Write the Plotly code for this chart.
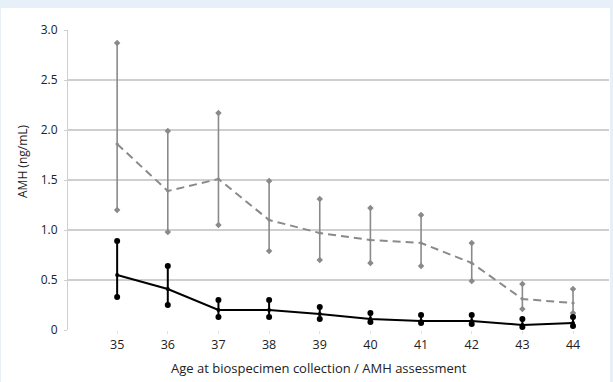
import plotly.graph_objects as go

ages = [35, 36, 37, 38, 39, 40, 41, 42, 43, 44]

grey_mean = [1.86, 1.39, 1.51, 1.10, 0.97, 0.90, 0.87, 0.67, 0.31, 0.27]
grey_upper = [2.87, 1.99, 2.17, 1.49, 1.31, 1.22, 1.15, 0.87, 0.46, 0.41]
grey_lower = [1.20, 0.98, 1.05, 0.79, 0.70, 0.67, 0.64, 0.49, 0.21, 0.17]

black_mean = [0.55, 0.41, 0.20, 0.20, 0.16, 0.11, 0.09, 0.09, 0.05, 0.07]
black_upper = [0.89, 0.64, 0.30, 0.30, 0.23, 0.17, 0.15, 0.15, 0.11, 0.13]
black_lower = [0.33, 0.25, 0.13, 0.13, 0.11, 0.08, 0.07, 0.06, 0.03, 0.04]

y_tickvals = [0, 0.5, 1.0, 1.5, 2.0, 2.5, 3.0]
y_ticktext = ["0", "0.5", "1.0", "1.5", "2.0", "2.5", "3.0"]

x_title = "Age at biospecimen collection / AMH assessment"
y_title = "AMH (ng/mL)"

GREY = "#8a8a8a"
BLACK = "#000000"
TEXT = "#222222"

fig = go.Figure()

def add_series(mean, upper, lower, color, dash, lw, ethick, msize, msymbol):
    err_plus = [u - m for u, m in zip(upper, mean)]
    err_minus = [m - l for m, l in zip(mean, lower)]
    fig.add_trace(go.Scatter(
        x=ages, y=mean, mode="lines+markers",
        line=dict(color=color, width=lw, dash=dash),
        marker=dict(color=color, size=msize - 2, symbol=msymbol),
        error_y=dict(type="data", symmetric=False, array=err_plus,
                     arrayminus=err_minus, color=color, thickness=ethick, width=0),
        showlegend=False, hoverinfo="skip"))
    fig.add_trace(go.Scatter(
        x=ages + ages, y=upper + lower, mode="markers",
        marker=dict(color=color, size=msize, symbol=msymbol),
        showlegend=False, hoverinfo="skip"))

add_series(grey_mean, grey_upper, grey_lower, GREY, "8px,5px", 2, 1.6, 5, "diamond")
add_series(black_mean, black_upper, black_lower, BLACK, "solid", 2, 2, 6, "circle")

# white chart card over a light-blue page background
fig.add_shape(type="rect", xref="paper", yref="paper",
              x0=(1 - 68) / 541, x1=(610 - 68) / 541,
              y0=(330 - 390) / 300, y1=(330 - 8) / 300,
              fillcolor="white", line_width=0, layer="below")

fig.add_annotation(text=x_title, xref="paper", yref="paper",
                   x=(319 - 68) / 541, y=(330 - 368) / 300,
                   xanchor="center", yanchor="middle", showarrow=False,
                   font=dict(size=13, color=TEXT))
fig.add_annotation(text=y_title, xref="paper", yref="paper",
                   x=(22 - 68) / 541, y=(330 - 161) / 300, textangle=-90,
                   xanchor="center", yanchor="middle", showarrow=False,
                   font=dict(size=12, color=TEXT))

fig.update_layout(
    width=613, height=382,
    margin=dict(l=68, r=4, t=30, b=52),
    paper_bgcolor="#e7eff9", plot_bgcolor="white",
    font=dict(family="Open Sans", size=12, color=TEXT),
)
fig.update_xaxes(
    range=[34.03, 44.71], tickvals=ages, ticktext=[str(a) for a in ages],
    showgrid=False, zeroline=False, showline=False,
    ticks="outside", ticklen=3, tickcolor="#e0e0e0",
    tickfont=dict(size=12.5, color=TEXT),
)
fig.update_yaxes(
    range=[0, 3.0], tickvals=y_tickvals, ticktext=y_ticktext,
    showgrid=True, gridcolor="#cfcfcf", gridwidth=1.5,
    zeroline=False, showline=True, linecolor="#cfcfcf", linewidth=1,
    ticks="outside", ticklen=3, tickcolor="#cfcfcf",
    tickfont=dict(size=12, color=TEXT), ticklabelstandoff=4,
)

fig.write_html("out.html", config={"displayModeBar": False},
               post_script="document.body.style.margin='0px';")
